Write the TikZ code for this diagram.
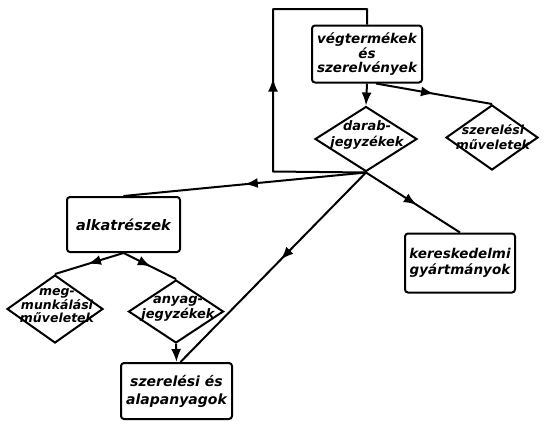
\documentclass[tikz,border=0pt]{standalone}
\usepackage{fontspec}
\newfontfamily\hand{DejaVu Sans}
\usetikzlibrary{shapes.geometric,arrows.meta,decorations.markings}

\tikzset{
  line/.style={line width=2pt, line join=round},
  box/.style={draw, line width=2pt, rounded corners=3pt, inner sep=0pt,
    align=center, font=\hand\bfseries\itshape\fontsize{13.5}{13.5}\selectfont},
  dia/.style={draw, diamond, line width=2pt, inner sep=0pt},
  dtext/.style={align=center, inner sep=0pt, font=\hand\bfseries\itshape\fontsize{13}{16}\selectfont},
  tip/.style={-{Latex[length=13pt,width=10pt]}},
  midtip/.style={postaction={decorate}, decoration={markings,
    mark=at position #1 with {\arrow{Latex[length=13pt,width=10pt]}}}}
}

\begin{document}
\begin{tikzpicture}[x=1pt,y=-1pt]
  \useasboundingbox (0,0) rectangle (546,421);

  % boxes
  \node[box, minimum width=110pt, minimum height=57pt] (vegt) at (367,54)
    {végtermékek\\és\\szerelvények};
  \node[box, minimum width=113pt, minimum height=55pt, font=\hand\bfseries\itshape\fontsize{14.5}{15}\selectfont]
    (alk) at (123.5,224.5) {alkatrészek};
  \node[box, minimum width=110pt, minimum height=59pt, font=\hand\bfseries\itshape\fontsize{13.5}{15.5}\selectfont]
    (ker) at (460,263) {kereskedelmi\\gyártmányok};
  \node[box, minimum width=111pt, minimum height=56pt, font=\hand\bfseries\itshape\fontsize{14}{18}\selectfont]
    (szer) at (176.5,391) {szerelési és\\alapanyagok};

  % diamonds
  \node[dia, minimum width=102pt, minimum height=65pt] (darab) at (366,139) {};
  \node[dtext] (darabt) at (367,135) {darab-\\jegyzékek};
  \node[dia, minimum width=92pt, minimum height=65pt] (szerm) at (492,137.5) {};
  \node[dtext, font=\hand\bfseries\itshape\fontsize{12.5}{15}\selectfont] (szermt) at (493,137)
    {szerelési\\műveletek};
  \node[dia, minimum width=96pt, minimum height=68pt] (megm) at (55,309) {};
  \node[dtext, font=\hand\bfseries\itshape\fontsize{12.5}{13.5}\selectfont] (megmt) at (57,306)
    {meg-\\munkálási\\műveletek};
  \node[dia, minimum width=95pt, minimum height=63pt] (anyag) at (176,311.5) {};
  \node[dtext, font=\hand\bfseries\itshape\fontsize{13}{15}\selectfont] (anyagt) at (178,309)
    {anyag-\\jegyzékek};

  % loop corners
  \coordinate (lb) at (273,171.5);
  \coordinate (lt) at (273,9);

  % connectors
  \draw[line, tip] (vegt.south) -- (darab.north);
  \draw[line, midtip=0.5] ([xshift=9pt]vegt.south) -- (szerm.north);
  \draw[line, midtip=186pt] (darab.south) -- (lb) -- (lt) -| (vegt.north);
  \draw[line, midtip=0.5] (darab.south) -- (alk.north);
  \draw[line, midtip=0.54] (darab.south) -- (ker.north);
  \draw[line, midtip=0.46] (darab.south) -- ([xshift=4pt]szer.north);
  \draw[line, midtip=0.52] (alk.south) -- (megm.north);
  \draw[line, midtip=0.52] (alk.south) -- (anyag.north);
  \draw[line, tip] (anyag.south) -- (szer.north);
\end{tikzpicture}
\end{document}
